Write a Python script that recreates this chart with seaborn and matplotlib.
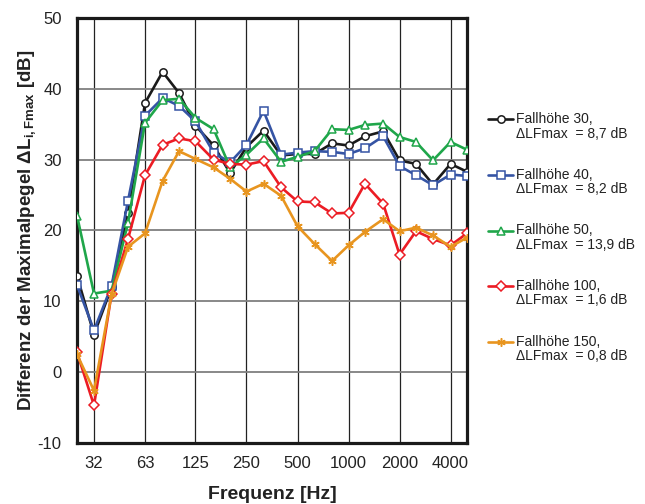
import numpy as np
import pandas as pd
import matplotlib
matplotlib.use("Agg")
import matplotlib.pyplot as plt
import seaborn as sns
from matplotlib.legend_handler import HandlerLine2D
from matplotlib.transforms import Affine2D

# ---- data (third-octave bands) ----
freqs = [25, 31.5, 40, 50, 63, 80, 100, 125, 160, 200, 250, 315, 400, 500,
         630, 800, 1000, 1250, 1600, 2000, 2500, 3150, 4000, 5000]
h30 = [13.6, 5.3, 12.0, 22.5, 38.0, 42.4, 39.4, 34.8, 32.0, 28.1, 31.8, 34.1,
       30.6, 30.8, 30.8, 32.3, 32.0, 33.3, 34.0, 29.9, 29.4, 26.5, 29.4, 28.3]
h40 = [12.3, 5.9, 12.2, 24.2, 36.2, 38.7, 37.6, 35.4, 31.0, 29.6, 32.1, 36.9,
       30.7, 31.0, 31.2, 31.1, 30.8, 31.6, 33.3, 29.1, 27.8, 26.4, 27.9, 27.7]
h50 = [22.1, 11.1, 11.5, 21.1, 35.2, 38.4, 38.6, 35.9, 34.3, 28.9, 30.7, 33.0,
       29.7, 30.4, 31.2, 34.3, 34.2, 34.9, 35.1, 33.2, 32.5, 29.9, 32.5, 31.4]
h100 = [2.8, -4.7, 11.1, 18.8, 27.8, 32.1, 33.0, 32.6, 30.0, 29.4, 29.3, 29.8,
        26.1, 24.1, 24.0, 22.4, 22.5, 26.6, 23.8, 16.6, 19.9, 18.8, 17.9, 19.6]
h150 = [2.5, -2.6, 11.0, 17.7, 19.6, 27.0, 31.2, 30.1, 28.9, 27.3, 25.5, 26.6,
        24.9, 20.6, 18.1, 15.7, 17.9, 19.8, 21.6, 19.9, 20.4, 19.3, 17.7, 19.0]

series_labels = ["Fallhöhe 30,\nΔLFmax  = 8,7 dB",
                 "Fallhöhe 40,\nΔLFmax  = 8,2 dB",
                 "Fallhöhe 50,\nΔLFmax  = 13,9 dB",
                 "Fallhöhe 100,\nΔLFmax  = 1,6 dB",
                 "Fallhöhe 150,\nΔLFmax  = 0,8 dB"]
tick_freqs = [31.5, 63, 125, 250, 500, 1000, 2000, 4000]
tick_labels = ["32", "63", "125", "250", "500", "1000", "2000", "4000"]
y_ticks = [-10, 0, 10, 20, 30, 40, 50]

colors = ["#1a1a1a", "#3554a4", "#1fa64a", "#ec1c24", "#e8951f"]
markers = ["o", "s", "^", "D", (6, 2, 0)]
msizes = [5.3, 5.3, 5.8, 4.7, 6]

sns.set_style("white")
plt.rcParams["font.family"] = ["Liberation Sans", "DejaVu Sans"]
plt.rcParams["mathtext.fontset"] = "custom"
plt.rcParams["mathtext.rm"] = "Liberation Sans"
plt.rcParams["mathtext.bf"] = "Liberation Sans:bold"

fig = plt.figure(figsize=(6.45, 5.04), dpi=100)
ax = fig.add_axes([77 / 645, 1 - 443 / 504, 390 / 645, 425 / 504])

all_series = [h30, h40, h50, h100, h150]
for vals, lab, c, m, ms in zip(all_series, series_labels, colors, markers, msizes):
    df = pd.DataFrame({"f": freqs, "v": vals})
    mfc = c if m == (6, 2, 0) else "white"
    sns.lineplot(data=df, x="f", y="v", ax=ax, color=c, lw=1.9,
                 marker=m, markersize=ms, markerfacecolor=mfc,
                 markeredgecolor=c, markeredgewidth=1.1,
                 errorbar=None, label=lab, zorder=3)

ax.set_xscale("log")
ax.set_xlim(25, 5000)
ax.set_ylim(-10, 50)
ax.set_xticks(tick_freqs)
ax.set_xticklabels(tick_labels)
ax.xaxis.set_minor_locator(matplotlib.ticker.NullLocator())
ax.set_yticks(y_ticks)
ax.set_yticklabels([str(t) for t in y_ticks])
ax.tick_params(axis="both", length=0, labelsize=12, colors="#222222")
ax.tick_params(axis="y", pad=11)
ax.tick_params(axis="x", pad=9)

for t in tick_freqs:
    ax.axvline(t, color="#222222", lw=0.9, zorder=1)
for y in y_ticks[1:-1]:
    ax.axhline(y, color="#7f7f7f", lw=1.3, zorder=1)

for s in ax.spines.values():
    s.set_visible(True)
    s.set_linewidth(2.3)
    s.set_color("#1a1a1a")

ax.set_xlabel("Frequenz [Hz]", fontsize=14, fontweight="bold", labelpad=11,
              color="#222222")
ax.set_ylabel(r"Differenz der Maximalpegel ΔL$_\mathbf{i,Fmax}$ [dB]",
              fontsize=13.5, fontweight="bold", labelpad=-1, color="#222222")


class UpHandler(HandlerLine2D):
    def create_artists(self, legend, orig_handle, xdescent, ydescent,
                       width, height, fontsize, trans):
        arts = super().create_artists(legend, orig_handle, xdescent, ydescent,
                                      width, height, fontsize, trans)
        off = Affine2D().translate(0, 0.55 * fontsize)
        for a in arts:
            a.set_transform(off + trans)
        return arts


handles, labels = ax.get_legend_handles_labels()
leg = fig.legend(handles, labels, loc="upper left",
                 bbox_to_anchor=(488 / 645, 1 - 112 / 504),
                 frameon=False, fontsize=10, numpoints=1,
                 handlelength=1.8, handletextpad=0.2, labelspacing=1.95,
                 borderpad=0, borderaxespad=0,
                 handler_map={h: UpHandler() for h in handles})
for t in leg.get_texts():
    t.set_linespacing(1.05)
    t.set_color("#222222")
if ax.get_legend() is not None:
    ax.get_legend().remove()

fig.savefig("out.png", dpi=100)
